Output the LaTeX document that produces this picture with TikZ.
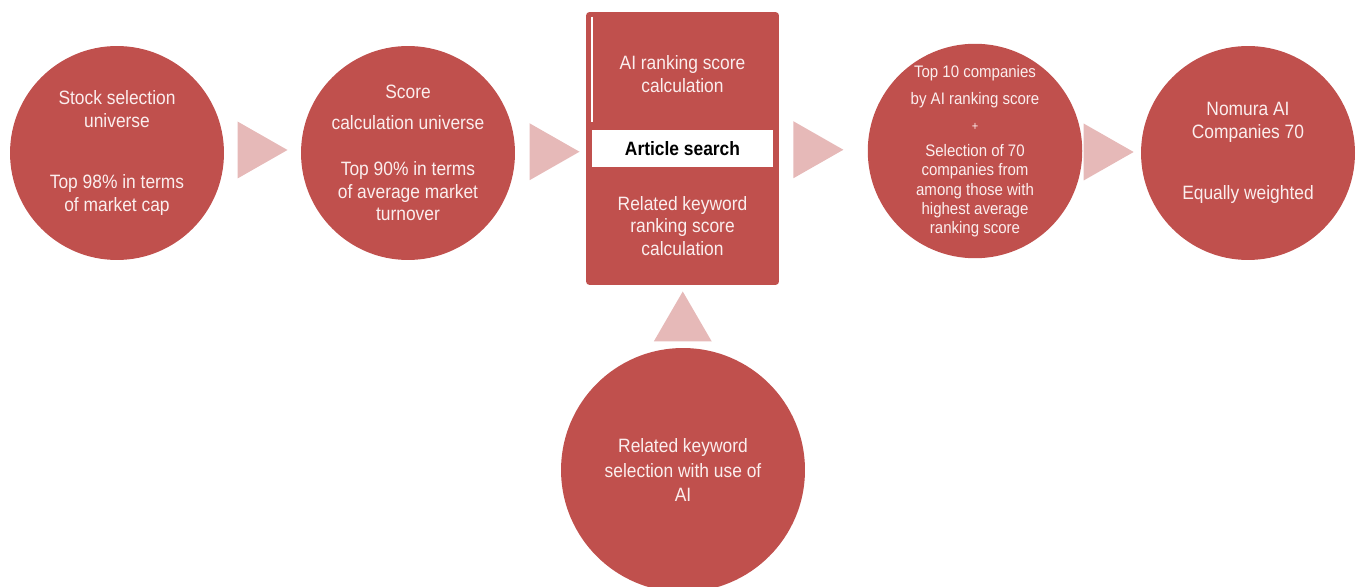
\documentclass[tikz,border=0pt]{standalone}
\usepackage{fontspec}
\setmainfont{Liberation Sans}[FakeStretch=0.9]
\usetikzlibrary{calc}
\usetikzlibrary{positioning}

\definecolor{stepred}{HTML}{C0504D}
\definecolor{tripink}{HTML}{E6B9B8}
\definecolor{txtpink}{HTML}{FBEEEE}

\tikzset{
  bubble/.style={circle, fill=stepred, text=txtpink, align=center, inner sep=0pt,
    minimum size=4.28cm, font=\fontsize{11}{12.9}\selectfont},
  boxtext/.style={text=txtpink, align=center, font=\fontsize{11}{12.9}\selectfont},
  pointer/.style={fill=tripink}
}

\begin{document}
\begin{tikzpicture}[x=0.02cm, y=-0.02cm]
    \useasboundingbox (0,0) rectangle (1358,587);

    \node[bubble] (c1) at (117,153) {Stock selection\\universe\\[21.7pt]Top 98\% in terms\\of market cap};

    \node[bubble] (c2) at (408,153) {Score\\[4.7pt]calculation universe\\[13.2pt]Top 90\% in terms\\of average market\\turnover};

    \node[fill=stepred, rounded corners=2pt, minimum width=3.86cm, minimum height=5.46cm] (box) at (682.5,148.5) {};
    \draw[white, line width=1.2pt] ($(box.north west)+(6,5)$) -- ++(0,105);
    \node[boxtext] (top) at (682.5,74) {AI ranking score\\calculation};
    \node[fill=white, minimum width=3.62cm, minimum height=0.74cm, inner sep=0pt, font=\fontsize{11}{12.9}\selectfont\bfseries] (search) at (682.5,148.5) {Article search};
    \node[boxtext] (bottom) at (682.5,226) {Related keyword\\ranking score\\calculation};

    \node[bubble, font=\fontsize{9.5}{10.9}\selectfont] (c3) at (975,151) {Top 10 companies\\[4.4pt]by AI ranking score\\[4.4pt]{\fontsize{7}{8}\selectfont +}\\[3.8pt]Selection of 70\\companies from\\among those with\\highest average\\ranking score};

    \node[bubble] (c4) at (1248,153) {Nomura AI\\Companies 70\\[21.7pt]Equally weighted};

    \node[bubble, minimum size=4.88cm, font=\fontsize{11}{14.2}\selectfont] (c5) at (683,470) {Related keyword\\selection with use of\\AI};

    \fill[pointer] ($(c1.east)!0.5!(c2.west)+(0,-3)$) ++(-25,-28.5) -- ++(50,28.5) -- ++(-50,28.5) -- cycle;
    \fill[pointer] ($(c2.east)!0.5!(box.west)+(4,1)$) ++(-25,-28.5) -- ++(50,28.5) -- ++(-50,28.5) -- cycle;
    \fill[pointer] ($(box.east)!0.5!(c3.west)+(-5,0)$) ++(-25,-28.5) -- ++(50,28.5) -- ++(-50,28.5) -- cycle;
    \fill[pointer] ($(c3.east)!0.5!(c4.west)+(-3,0)$) ++(-25,-28.5) -- ++(50,28.5) -- ++(-50,28.5) -- cycle;
    \fill[pointer] ($(box.south)!0.5!(c5.north)$) ++(-29,25) -- ++(29,-50) -- ++(29,50) -- cycle;

\end{tikzpicture}
\end{document}
